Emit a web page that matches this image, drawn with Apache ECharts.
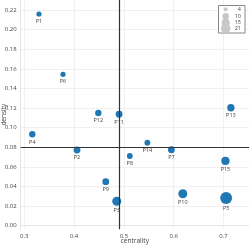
<!DOCTYPE html>
<html><head><meta charset="utf-8">
<script src="https://cdn.jsdelivr.net/npm/echarts@6/dist/echarts.min.js"></script>
<style>html,body{margin:0;padding:0;background:#fff}#c{width:249px;height:245px}</style>
</head><body><div id="c"></div>
<script>
const names = ['P1','P2','P3','P4','P5','P6','P7','P8','P9','P10','P11','P12','P13','P14','P15'];
const centrality = [0.3295,0.4059,0.4857,0.3161,0.7054,0.3778,0.5955,0.5119,0.4636,0.6184,0.4904,0.4487,0.7149,0.5472,0.7040];
const density = [0.2159,0.0772,0.0249,0.0932,0.0283,0.1544,0.0775,0.0711,0.0449,0.0326,0.1136,0.1149,0.1203,0.0847,0.0660];
const sizes = [4,7,12,6,21,4,7,5,7,12,7,6,8,5,10];
const xTicks = [0.3,0.4,0.5,0.6,0.7];
const yTicks = [0,0.02,0.04,0.06,0.08,0.10,0.12,0.14,0.16,0.18,0.20,0.22];
const legendVals = [4,10,15,21];
const vLine = 0.4897, hLine = 0.0779;

const sizeFn = v => 2.6*Math.sqrt(v);
const font = 'Open Sans';
const data = names.map((n,i)=>({name:n, value:[centrality[i], density[i], sizes[i]]}));

const chart = echarts.init(document.getElementById('c'));
const legY = [9.3,16.3,22.7,28.7];
const graphics = [{type:'rect', shape:{x:218.5,y:5.5,width:26.5,height:27.5}, style:{fill:'#fff',stroke:'#888',lineWidth:1}, z:10}];
legendVals.forEach((v,i)=>{
  graphics.push({type:'circle', shape:{cx:225.7, cy:legY[i], r:sizeFn(v)*0.4}, style:{fill:'#c8c8c8'}, z:11});
  graphics.push({type:'text', x:241, y:legY[i], style:{text:String(v), fontSize:5.5, fontFamily:font, fill:'#444', align:'right', verticalAlign:'middle'}, z:12});
});
chart.setOption({
  animation:false,
  textStyle:{fontFamily:font},
  grid:{left:20.7, right:0, top:0, bottom:15.7, containLabel:false, outerBoundsMode:'none'},
  xAxis:{type:'value', min:0.2928, max:0.7513, name:'centrality', nameLocation:'middle', nameGap:8.5, nameMoveOverlap:false,
    nameTextStyle:{fontSize:6.5, color:'#444', fontFamily:font},
    axisLine:{show:true, lineStyle:{color:'#e6e6e6'}},
    axisTick:{show:false, customValues:xTicks},
    axisLabel:{customValues:xTicks, fontSize:6, color:'#444', margin:4, formatter:v=>v.toFixed(1)},
    splitLine:{show:true, lineStyle:{color:'#f0f0f0', width:1}}},
  yAxis:{type:'value', min:-0.0037, max:0.2302, name:'density', nameLocation:'middle', nameGap:13.5, nameMoveOverlap:false,
    nameTextStyle:{fontSize:6.5, color:'#444', fontFamily:font},
    axisLine:{show:true, lineStyle:{color:'#e6e6e6'}},
    axisTick:{show:false, customValues:yTicks},
    axisLabel:{customValues:yTicks, fontSize:6, color:'#444', margin:4, formatter:v=>v.toFixed(2)},
    splitLine:{show:true, lineStyle:{color:'#f0f0f0', width:1}}},
  graphic:graphics,
  series:[{type:'scatter', data:data, symbolSize:d=>sizeFn(d[2]),
    itemStyle:{color:'#1f77b4', opacity:1},
    label:{show:true, position:'bottom', distance:1.5, formatter:p=>p.name, fontSize:5.5, color:'#444', fontFamily:font},
    markLine:{silent:true, symbol:'none', label:{show:false}, lineStyle:{color:'#333', width:1.2, type:'solid'},
      data:[{xAxis:vLine},{yAxis:hLine}]}
  }]
});
</script></body></html>
